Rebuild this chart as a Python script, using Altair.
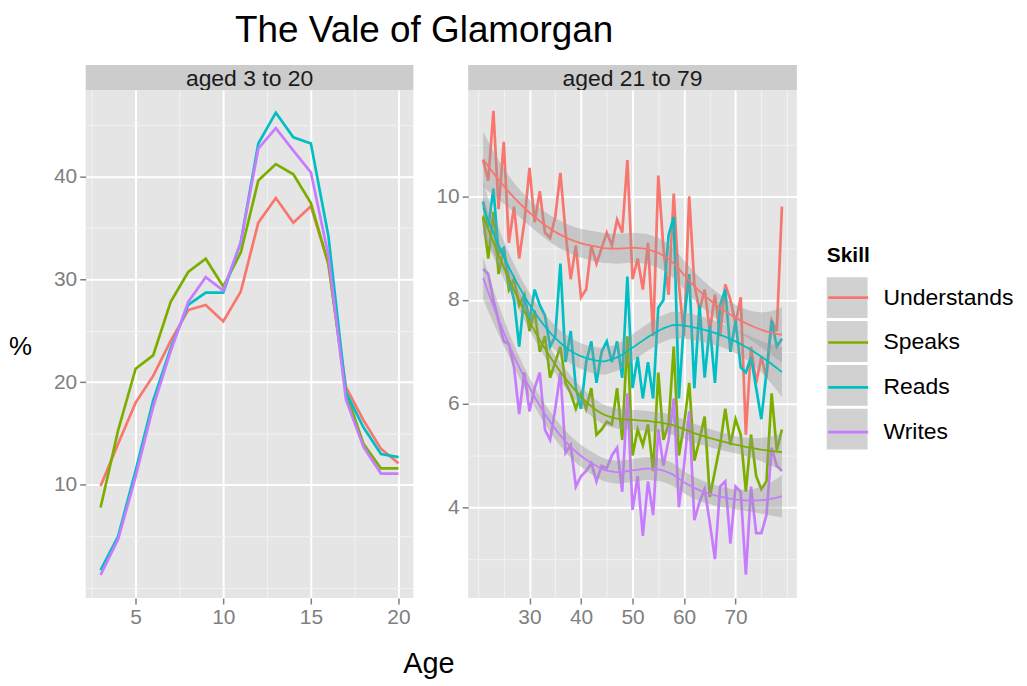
import numpy as np
import pandas as pd
import altair as alt

# ---------------- data ----------------
skills = ["Understands", "Speaks", "Reads", "Writes"]
colors = ["#F8766D", "#7CAE00", "#00BFC4", "#C77CFF"]

young_label = "aged 3 to 20"
adult_label = "aged 21 to 79"

young_ages = list(range(3, 21))
young_understands = [9.9, 14.0, 18.0, 20.6, 24.0, 27.0, 27.5, 25.9, 28.8, 35.5, 37.9, 35.5, 37.1, 31.5, 19.5, 16.3, 13.5, 12.1]
young_speaks = [7.8, 15.3, 21.3, 22.6, 27.8, 30.7, 32.0, 29.3, 32.6, 39.6, 41.2, 40.2, 37.4, 31.5, 19.0, 14.0, 11.6, 11.6]
young_reads = [1.7, 5.0, 11.4, 18.2, 23.3, 27.5, 28.7, 28.7, 33.6, 43.2, 46.2, 43.8, 43.2, 34.2, 19.0, 15.6, 13.0, 12.7]
young_writes = [1.25, 4.7, 10.8, 17.6, 23.0, 27.8, 30.2, 28.9, 33.6, 42.7, 44.7, 42.5, 40.4, 32.3, 18.3, 13.7, 11.1, 11.1]

adult_ages = list(range(21, 80))
adult_understands = [10.7, 10.3, 11.65, 9.75, 11.05, 9.1, 9.8, 8.8, 9.5, 10.55,
                     9.5, 10.1, 9.3, 9.2, 9.6, 10.45, 9.3, 8.4, 9.05, 8.05,
                     8.2, 9.05, 8.7, 9.0, 9.3, 9.05, 9.55, 9.3, 10.7, 8.4,
                     8.8, 8.2, 9.1, 7.3, 10.4, 9.0, 8.1, 10.05, 8.3, 7.3,
                     10.0, 8.3, 7.8, 8.2, 7.4, 8.1, 7.3, 8.3, 8.0, 7.55,
                     8.05, 5.4, 7.1, 6.4, 6.9, 6.5, 7.6, 7.4, 9.8]
adult_speaks = [9.6, 8.8, 9.7, 8.5, 9.0, 8.2, 8.4, 7.9, 8.1, 7.4,
                7.8, 7.0, 7.3, 6.5, 6.8, 7.1, 6.4, 6.2, 5.9, 6.2,
                5.9, 6.3, 5.4, 5.5, 5.65, 5.6, 6.3, 5.3, 7.3, 5.0,
                5.5, 5.2, 5.6, 4.7, 6.6, 5.3, 5.6, 7.1, 5.0, 5.6,
                6.4, 4.9, 5.3, 5.75, 4.2, 4.7, 5.2, 5.9, 5.2, 5.7,
                5.4, 4.3, 5.4, 4.6, 4.35, 4.5, 6.2, 5.1, 5.5]
adult_reads = [9.9, 9.4, 10.15, 8.9, 9.0, 8.4, 8.0, 7.1, 8.1, 7.6,
               8.2, 7.9, 7.7, 7.1, 7.3, 8.7, 6.8, 7.4, 6.3, 5.9,
               6.8, 7.2, 6.4, 7.0, 7.2, 6.8, 7.2, 6.5, 8.45, 6.3,
               6.9, 6.1, 6.8, 6.1, 7.85, 8.0, 9.25, 9.6, 6.1, 7.6,
               8.5, 6.3, 7.9, 6.5, 7.5, 6.4, 7.9, 8.2, 7.0, 7.6,
               6.7, 6.6, 6.9, 6.3, 5.7, 6.6, 7.6, 7.1, 7.25]
adult_writes = [8.6, 8.5, 8.0, 7.6, 7.2, 7.15, 6.7, 5.8, 6.6, 5.85,
                6.3, 6.6, 5.5, 5.3, 5.9, 6.6, 5.05, 5.2, 4.4, 4.6,
                4.7, 4.85, 4.5, 4.8, 4.75, 5.0, 5.15, 4.3, 6.2, 3.95,
                4.6, 3.45, 4.5, 3.85, 5.5, 4.8, 5.3, 6.1, 4.0, 4.8,
                5.85, 3.75, 4.1, 4.35, 3.7, 3.0, 4.4, 4.5, 3.3, 4.4,
                4.3, 2.7, 4.4, 3.5, 3.5, 3.85, 5.15, 4.8, 4.7]


def to_long(ages, series):
    rows = []
    for skill, vals in zip(skills, series):
        for a, v in zip(ages, vals):
            rows.append({"Age": a, "Skill": skill, "Value": v})
    return pd.DataFrame(rows)


young_df = to_long(young_ages, [young_understands, young_speaks, young_reads, young_writes])
adult_series = [adult_understands, adult_speaks, adult_reads, adult_writes]
adult_df = to_long(adult_ages, adult_series)


# ---------- loess smooth (span 0.75, degree 2) with confidence band ----------
def t_quantile(z, df):
    g1 = (z ** 3 + z) / 4
    g2 = (5 * z ** 5 + 16 * z ** 3 + 3 * z) / 96
    g3 = (3 * z ** 7 + 19 * z ** 5 + 17 * z ** 3 - 15 * z) / 384
    return z + g1 / df + g2 / df ** 2 + g3 / df ** 3


Z_LEVEL = 1.2816  # normal quantile for an 80% band


def loess(x, y, xs, span=0.75):
    x = np.asarray(x, float)
    y = np.asarray(y, float)
    n = len(x)
    q = int(np.floor(n * span))

    def lvec(x0):
        d = np.abs(x - x0)
        h = np.sort(d)[q - 1]
        w = np.clip(1 - (d / h) ** 3, 0, None) ** 3
        X = np.vstack([np.ones(n), x - x0, (x - x0) ** 2]).T
        XtW = X.T * w
        return np.linalg.solve(XtW @ X, XtW)[0]

    L = np.array([lvec(v) for v in x])
    res = y - L @ y
    M = np.eye(n) - L
    MM = M.T @ M
    d1 = np.trace(MM)
    d2 = np.trace(MM @ MM)
    sigma = np.sqrt((res ** 2).sum() / d1)
    dof = d1 ** 2 / d2
    Ls = np.array([lvec(v) for v in xs])
    fit = Ls @ y
    se = sigma * np.sqrt((Ls ** 2).sum(axis=1))
    t = t_quantile(Z_LEVEL, dof)
    return fit, fit - t * se, fit + t * se


grid = np.linspace(min(adult_ages), max(adult_ages), 80)
smooth_rows = []
for skill, vals in zip(skills, adult_series):
    fit, lo, hi = loess(adult_ages, vals, grid)
    for g, f, l, h in zip(grid, fit, lo, hi):
        smooth_rows.append({"Age": float(g), "Skill": skill, "Key": skill,
                            "fit": float(f), "lo": float(l), "hi": float(h)})
smooth_df = pd.DataFrame(smooth_rows)

# ---------------- styling ----------------
FONT = "Liberation Sans"
GREY = "#7F7F7F"
PW_L, PW_R, PH = 329, 330, 510
SH = 25
TICK_FS = 21
LINE_W = 2.7


def gg_axis(major, minor, **kw):
    vals = sorted(major + minor)
    test = "indexof(%s, datum.value) >= 0" % str(major)
    return alt.Axis(
        values=vals,
        labelExpr="(%s) ? datum.label : ''" % test,
        grid=True,
        gridColor={"condition": {"test": test, "value": "#FFFFFF"}, "value": "#F2F2F2"},
        gridWidth={"condition": {"test": test, "value": 2}, "value": 1},
        tickOpacity={"condition": {"test": test, "value": 1}, "value": 0},
        domain=False,
        tickColor=GREY,
        tickSize=6,
        tickWidth=1.5,
        labelColor=GREY,
        labelFont=FONT,
        labelFontSize=TICK_FS,
        labelOverlap=False,
        labelPadding=3,
        **kw,
    )


LEG_X, LEG_Y = 744, 181
stroke_legend = alt.Legend(
    title="Skill", orient="none", legendX=LEG_X, legendY=LEG_Y,
    symbolType="stroke", symbolSize=1600, symbolStrokeWidth=LINE_W,
    labelFont=FONT, labelFontSize=23, labelOffset=14, labelColor="#000000",
    titleFont=FONT, titleFontSize=21, titleFontWeight="bold", titlePadding=10,
    rowPadding=11, padding=0, zindex=2,
)
fill_legend = alt.Legend(
    title=None, orient="none", legendX=LEG_X, legendY=LEG_Y + 32,
    symbolType="square", symbolSize=1681, symbolOpacity=0.45, symbolStrokeWidth=0,
    labelExpr="''", labelFontSize=1, labelOffset=0,
    rowPadding=3, padding=0, zindex=1,
)

stroke_enc = alt.Stroke("Skill:N", scale=alt.Scale(domain=skills, range=colors), legend=stroke_legend)


def strip(label, w):
    return alt.Chart(pd.DataFrame({"label": [label]})).mark_text(
        font=FONT, fontSize=23, color="#1A1A1A", baseline="middle", align="center"
    ).encode(
        text="label:N", x=alt.value(w / 2), y=alt.value(SH / 2 + 1)
    ).properties(width=w, height=SH, view=alt.ViewBackground(fill="#CCCCCC", stroke=None))


# left panel
lx = alt.X("Age:Q", scale=alt.Scale(domain=[2.15, 20.85], nice=False, zero=False),
           axis=gg_axis([5, 10, 15, 20], [2.5, 7.5, 12.5, 17.5],
                        title="Age", titleFont=FONT, titleFontSize=29, titleFontWeight="normal",
                        titleColor="#000000", titleX=344, titleY=66, titleAlign="center",
                        titleBaseline="middle"))
ly = alt.Y("Value:Q", scale=alt.Scale(domain=[-1.0, 48.4], nice=False, zero=False),
           axis=gg_axis([10, 20, 30, 40], [0, 5, 15, 25, 35, 45],
                        title="%", titleFont=FONT, titleFontSize=26, titleFontWeight="normal",
                        titleColor="#000000", titleAngle=0, titleX=-66, titleY=258,
                        titleAlign="center", titleBaseline="middle"))
left_panel = alt.Chart(young_df).mark_line(strokeWidth=LINE_W).encode(
    x=lx, y=ly, stroke=stroke_enc
).properties(width=PW_L, height=PH)

# right panel
rx_scale = alt.Scale(domain=[18.1, 81.9], nice=False, zero=False)
ry_scale = alt.Scale(domain=[2.25, 12.05], nice=False, zero=False)
rx_axis = gg_axis([30, 40, 50, 60, 70], [20, 25, 35, 45, 55, 65, 75, 80], title=None)
ry_axis = gg_axis([4, 6, 8, 10], [3, 5, 7, 9, 11], title=None)

r_lines = alt.Chart(adult_df).mark_line(strokeWidth=LINE_W).encode(
    x=alt.X("Age:Q", scale=rx_scale, axis=rx_axis),
    y=alt.Y("Value:Q", scale=ry_scale, axis=ry_axis),
    stroke=stroke_enc,
)
r_band = alt.Chart(smooth_df).mark_area(opacity=0.4).encode(
    x=alt.X("Age:Q", scale=rx_scale, axis=rx_axis),
    y=alt.Y("lo:Q", scale=ry_scale, axis=ry_axis),
    y2="hi:Q",
    fill=alt.Fill("Key:N", sort=skills, scale=alt.Scale(range=["#999999"] * 4), legend=fill_legend),
)
r_smooth = alt.Chart(smooth_df).mark_line(strokeWidth=1.8).encode(
    x=alt.X("Age:Q", scale=rx_scale, axis=rx_axis),
    y=alt.Y("fit:Q", scale=ry_scale, axis=ry_axis),
    stroke=stroke_enc,
)
right_panel = alt.layer(r_lines, r_band, r_smooth).properties(width=PW_R, height=PH)

chart = alt.concat(
    strip(young_label, PW_L), strip(adult_label, PW_R), left_panel, right_panel,
    columns=2, spacing={"row": 0, "column": 55}, bounds="flush",
).properties(
    title=alt.TitleParams("The Vale of Glamorgan", anchor="start", frame="group", dx=150,
                          font=FONT, fontSize=37, fontWeight="normal", color="#000000",
                          baseline="alphabetic", offset=-14),
    padding={"left": 0, "top": 3, "right": 5, "bottom": 5},
).configure_view(stroke=None, fill="#E5E5E5")

chart.save("out.html", embed_options={"renderer": "svg", "actions": False})
